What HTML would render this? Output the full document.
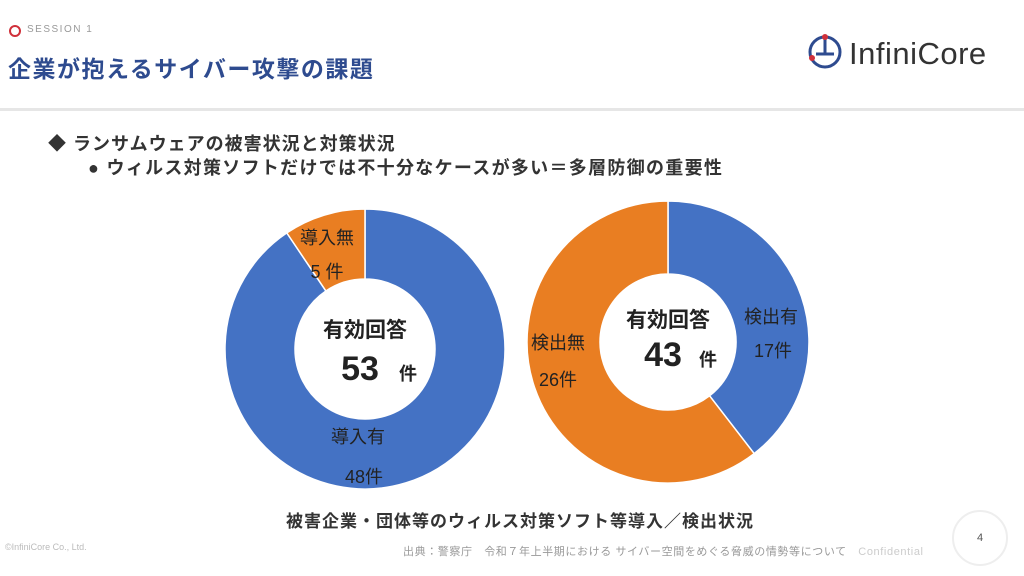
<!DOCTYPE html>
<html><head><meta charset="utf-8"><style>
body{margin:0;width:1024px;height:576px;overflow:hidden;background:#fff;font-family:"Liberation Sans","Noto Sans CJK JP",sans-serif;position:relative}
.a{position:absolute;white-space:nowrap}
</style></head><body>
<div class="a" style="left:9px;top:25px;width:8px;height:8px;border:2px solid #d0303a;border-radius:50%"></div>
<div class="a" style="left:27px;top:24px;font-size:10px;color:#999;letter-spacing:1.5px">SESSION 1</div>
<div class="a" style="left:8px;top:50px;font-size:23px;letter-spacing:1.5px;font-weight:bold;color:#2e4b8f">企業が抱えるサイバー攻撃の課題</div>
<div class="a" style="left:806px;top:32px;">
<svg width="40" height="40" viewBox="0 0 40 40"><circle cx="19" cy="20" r="15" fill="none" stroke="#2e4b8f" stroke-width="3"/><path d="M10 22 H28 M19 6 V22" stroke="#2e4b8f" stroke-width="3" fill="none"/><circle cx="19" cy="5" r="3" fill="#d0303a"/><circle cx="6" cy="26" r="3" fill="#d0303a"/></svg></div>
<div class="a" style="left:849px;top:36px;font-size:31px;letter-spacing:0.5px;color:#333">InfiniCore</div>
<div class="a" style="left:0;top:108px;width:1024px;height:3px;background:#e6e6e6"></div>
<div class="a" style="left:48px;top:130px;font-size:18px;letter-spacing:1px;font-weight:bold;color:#333">◆ ランサムウェアの被害状況と対策状況</div>
<div class="a" style="left:88px;top:154px;font-size:18px;letter-spacing:1.3px;font-weight:bold;color:#333">● ウィルス対策ソフトだけでは不十分なケースが多い＝多層防御の重要性</div>
<svg class="a" style="left:0;top:0" width="1024" height="576" id="chart"></svg>
<div class="a" style="left:286px;top:507px;font-size:17px;letter-spacing:1px;font-weight:bold;color:#333">被害企業・団体等のウィルス対策ソフト等導入／検出状況</div>
<div class="a" style="left:5px;top:542px;font-size:9px;color:#bbb">©InfiniCore Co., Ltd.</div>
<div class="a" style="left:403px;top:543px;font-size:11px;letter-spacing:0.6px;color:#999">出典：警察庁　令和７年上半期における サイバー空間をめぐる脅威の情勢等について　<span style="color:#ccc">Confidential</span></div>
<div class="a" style="left:952px;top:510px;width:52px;height:52px;border:2px solid #eee;border-radius:50%;text-align:center;line-height:52px;font-size:11px;color:#555">4</div>
<script>
const leftLabels=["導入有","導入無"];
const leftValues=[48,5];
const rightLabels=["検出有","検出無"];
const rightValues=[17,26];
const colors=["#4472C4","#E97E22"];
const NS="http://www.w3.org/2000/svg";
const svg=document.getElementById('chart');
function donut(cx,cy,R,r,vals,name){
  const tot=vals.reduce((a,b)=>a+b,0);let a0=-Math.PI/2;
  vals.forEach((v,i)=>{
    const a1=a0+v/tot*2*Math.PI,large=(a1-a0)>Math.PI?1:0;
    const p=(rad,a)=>[cx+rad*Math.cos(a),cy+rad*Math.sin(a)];
    const [x0,y0]=p(R,a0),[x1,y1]=p(R,a1),[x2,y2]=p(r,a1),[x3,y3]=p(r,a0);
    const path=document.createElementNS(NS,'path');
    path.setAttribute('d',`M${x0} ${y0}A${R} ${R} 0 ${large} 1 ${x1} ${y1}L${x2} ${y2}A${r} ${r} 0 ${large} 0 ${x3} ${y3}Z`);
    path.setAttribute('fill',colors[i]);path.setAttribute('stroke','#fff');path.setAttribute('stroke-width','1.5');
    
    
    svg.appendChild(path);a0=a1;
  });
  return tot;
}
function txt(x,y,s,size,w,name){
  const t=document.createElementNS(NS,'text');t.setAttribute('x',x);t.setAttribute('y',y);
  t.setAttribute('font-size',size);t.setAttribute('font-weight',w);t.setAttribute('fill','#222');
  t.setAttribute('text-anchor','middle');t.textContent=s;
  
  
  svg.appendChild(t);
}
const lt=donut(365,349,140,70,leftValues,'left-donut');
const rt=donut(668,342,141,68,rightValues,'right-donut');
txt(365,337,"有効回答",21,"bold","left-center-title");
txt(360,380,lt,34,"bold","left-total");txt(408,380,"件",18,"bold","left-total-unit");
txt(668,327,"有効回答",21,"bold","right-center-title");
txt(663,366,rt,34,"bold","right-total");txt(708,366,"件",18,"bold","right-total-unit");
txt(358,443,leftLabels[0],18,"normal","left-label-0");txt(364,483,leftValues[0]+"件",18,"normal","left-value-0");
txt(327,244,leftLabels[1],18,"normal","left-label-1");txt(327,278,leftValues[1]+" 件",18,"normal","left-value-1");
txt(771,323,rightLabels[0],18,"normal","right-label-0");txt(773,357,rightValues[0]+"件",18,"normal","right-label-value-0");
txt(558,349,rightLabels[1],18,"normal","right-label-1");txt(558,386,rightValues[1]+"件",18,"normal","right-value-1");
</script>
</body></html>
